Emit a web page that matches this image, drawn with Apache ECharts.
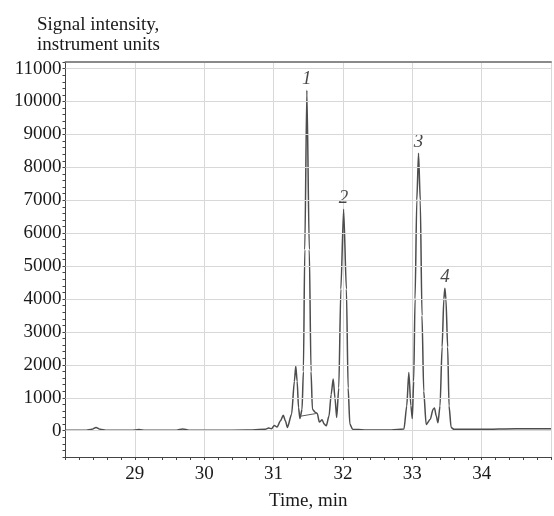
<!DOCTYPE html>
<html>
<head>
<meta charset="utf-8">
<script src="https://cdn.jsdelivr.net/npm/echarts@6/dist/echarts.min.js"></script>
<style>
html,body{margin:0;padding:0;background:#fff;}
#chart{width:554px;height:516px;}
</style>
</head>
<body>
<div id="chart"></div>
<script>
// ---- data ----
const times = [28.00,28.30,28.38,28.44,28.50,28.58,28.95,29.06,29.15,29.60,29.69,29.78,30.20,30.60,30.88,30.93,30.97,31.01,31.05,31.10,31.14,31.17,31.20,31.26,31.30,31.32,31.34,31.36,31.38,31.41,31.43,31.45,31.48,31.515,31.54,31.56,31.60,31.63,31.66,31.70,31.73,31.76,31.80,31.83,31.86,31.885,31.91,31.94,31.97,32.01,32.05,32.075,32.10,32.14,32.40,32.70,32.88,32.92,32.95,32.98,33.00,33.02,33.04,33.065,33.09,33.115,33.14,33.165,33.20,33.26,33.30,33.32,33.345,33.37,33.40,33.43,33.455,33.47,33.485,33.51,33.53,33.56,33.60,34.00,34.50,35.00];
const signal = [10,10,40,100,40,10,10,35,10,15,50,15,10,20,40,80,60,160,110,300,470,300,100,500,1500,1960,1500,700,370,640,1800,5500,10340,5500,1800,650,560,520,260,330,200,150,450,1100,1570,1000,400,1300,4300,6730,4300,1300,200,40,20,20,50,750,1770,760,370,1500,4000,7000,8430,7000,3500,1200,190,350,650,690,450,240,750,2540,4000,4330,4000,2540,750,100,40,40,60,60];
const integrationTimes = [31.39, 31.61];
const integrationSignal = [440, 520];
const peakNames = ['1','2','3','4'];
const peakTimes = [31.48, 32.01, 33.09, 33.47];
const peakHeights = [10340, 6730, 8430, 4330];
const yGridValues = [0,1000,2000,3000,4000,5000,6000,7000,8000,9000,10000,11000];
const xTickLabels = [29,30,31,32,33,34];

const serif = '"Liberation Serif","DejaVu Serif",serif';
const chart = echarts.init(document.getElementById('chart'), null, {renderer:'canvas'});

const option = {
  animation: false,
  backgroundColor: '#fff',
  title: {
    text: 'Signal intensity,\ninstrument units',
    left: 32, top: 10,
    textStyle: {fontFamily: serif, fontSize: 19, fontWeight: 'normal', color: '#1a1a1a', lineHeight: 20}
  },
  grid: {left: 65.5, right: 0.5, top: 62, bottom: 50, containLabel: false},
  xAxis: [{
    type: 'value', min: 28, max: 35, interval: 1,
    name: 'Time, min', nameLocation: 'middle', nameGap: 35,
    nameTextStyle: {fontFamily: serif, fontSize: 19, color: '#1a1a1a'},
    axisLine: {show: true, onZero: false, lineStyle: {color: '#444', width: 1}},
    axisTick: {show: true, length: 3, lineStyle: {color: '#444'}},
    minorTick: {show: true, splitNumber: 5, length: 3, lineStyle: {color: '#444'}},
    axisLabel: {
      fontFamily: serif, fontSize: 19, color: '#1a1a1a', margin: 8,
      formatter: v => (xTickLabels.indexOf(Math.round(v)) >= 0 && Math.abs(v - Math.round(v)) < 1e-6) ? String(Math.round(v)) : ''
    },
    splitLine: {show: true, lineStyle: {color: '#d8d8d8', width: 1}}
  },{
    type: 'value', min: 28, max: 35, position: 'top',
    axisLine: {show: true, onZero: false, lineStyle: {color: '#8a8a8a', width: 2}},
    axisTick: {show: false}, axisLabel: {show: false}, splitLine: {show: false}
  }],
  yAxis: {
    type: 'value', min: -800, max: 11200, interval: 200,
    axisLine: {show: true, onZero: false, lineStyle: {color: '#444', width: 1}},
    axisTick: {show: true, length: 3, lineStyle: {color: '#444'}},
    axisLabel: {
      fontFamily: serif, fontSize: 19, color: '#1a1a1a', margin: 4,
      formatter: v => (v >= 0 && v % 1000 === 0) ? String(v) : ''
    },
    splitLine: {show: false}
  },
  series: [
    {
      name: 'grid', type: 'line', data: [], z: 1, silent: true,
      markLine: {
        silent: true, symbol: ['none','none'], label: {show: false},
        lineStyle: {color: '#d8d8d8', width: 1, type: 'solid'},
        data: yGridValues.map(v => ({yAxis: v}))
      }
    },
    {
      name: 'signal', type: 'line', z: 3,
      data: times.map((t, i) => [t, signal[i]]),
      showSymbol: false, smooth: 0.25, smoothMonotone: 'x',
      lineStyle: {color: '#4d4d4d', width: 1.5}
    },
    {
      name: 'integration', type: 'line', z: 3,
      data: integrationTimes.map((t, i) => [t, integrationSignal[i]]),
      showSymbol: false, lineStyle: {color: '#5a5a5a', width: 1}
    },
    {
      name: 'peaks', type: 'scatter', z: 4, symbolSize: 0,
      data: peakTimes.map((t, i) => ({value: [t, peakHeights[i]], name: peakNames[i]})),
      label: {
        show: true, position: 'top', distance: 2, formatter: p => p.name,
        fontFamily: serif, fontStyle: 'italic', fontSize: 19, color: '#1a1a1a'
      }
    }
  ]
};
chart.setOption(option);
</script>
</body>
</html>
